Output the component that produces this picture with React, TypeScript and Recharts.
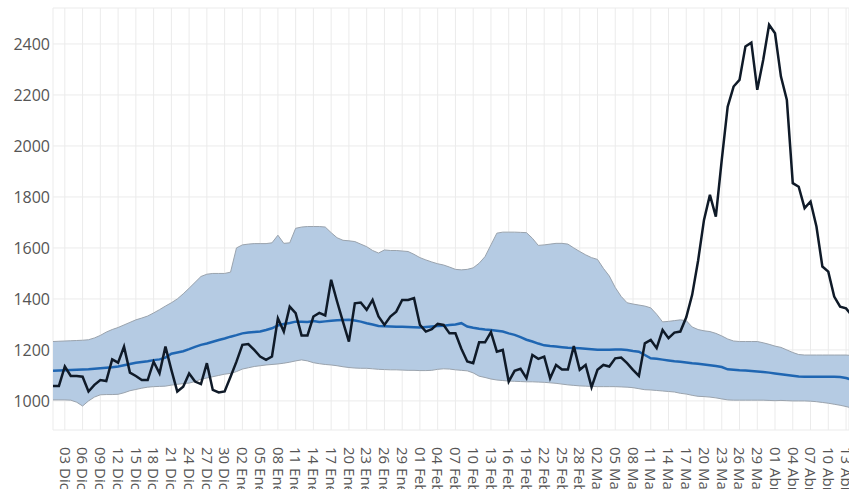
import React from "react";
import { ComposedChart, Area, Line, XAxis, YAxis, CartesianGrid } from "recharts";

// Daily values, day 0 = 01 Dic
const observed = [
  1059, 1059, 1135, 1098, 1098, 1095, 1037, 1063, 1082, 1078,
  1163, 1150, 1213, 1111, 1098, 1082, 1082, 1154, 1108, 1213,
  1122, 1037, 1056, 1108, 1076, 1066, 1148, 1043, 1033, 1037,
  1095, 1154, 1220, 1223, 1200, 1174, 1161, 1174, 1324, 1272,
  1370, 1344, 1257, 1257, 1331, 1345, 1335, 1475, 1390, 1310,
  1233, 1383, 1386, 1357, 1396, 1331, 1298, 1331, 1350, 1396,
  1396, 1403, 1298, 1272, 1281, 1302, 1298, 1265, 1265, 1205,
  1155, 1148, 1230, 1230, 1270, 1193, 1200, 1076, 1118, 1126,
  1089, 1180, 1165, 1174, 1089, 1141, 1123, 1123, 1215, 1122,
  1141, 1054, 1122, 1141, 1135, 1167, 1170, 1148, 1122, 1098,
  1226, 1239, 1207, 1278, 1246, 1268, 1272, 1328, 1416, 1550,
  1710, 1808, 1723, 1945, 2154, 2233, 2259, 2390, 2405, 2220,
  2337, 2475, 2442, 2272, 2180, 1854, 1840, 1756, 1782, 1684,
  1527, 1507, 1409, 1370, 1363, 1335,
];

const expected = [
  1118, 1119, 1120, 1121, 1122, 1123, 1124, 1126, 1128, 1130,
  1132, 1135, 1140, 1145, 1150, 1153, 1156, 1160, 1163, 1170,
  1185, 1190, 1195, 1203, 1212, 1220, 1225, 1232, 1239, 1245,
  1252, 1258, 1265, 1268, 1270, 1272, 1278, 1285, 1296, 1302,
  1306, 1311, 1311, 1310, 1313, 1310, 1312, 1314, 1316, 1317,
  1318, 1315, 1311, 1305, 1300, 1294, 1293, 1292, 1291, 1291,
  1290, 1289, 1288, 1290, 1292, 1294, 1295, 1298, 1300, 1305,
  1292, 1287, 1283, 1280, 1278, 1275, 1272, 1265, 1259, 1250,
  1240, 1233, 1225, 1218, 1215, 1213, 1211, 1209, 1208, 1207,
  1205, 1203, 1201, 1201, 1201, 1202, 1202, 1200, 1196, 1193,
  1180, 1167, 1165, 1162, 1159, 1156, 1154, 1151, 1148, 1146,
  1143, 1140, 1137, 1133, 1124, 1122, 1120, 1119, 1117, 1115,
  1113, 1111, 1108, 1105, 1102, 1099, 1096, 1095, 1095, 1095,
  1095, 1095, 1095, 1094, 1090, 1083,
];

const upper = [
  1233, 1234, 1235, 1236, 1237, 1238, 1240, 1247, 1257, 1270,
  1280, 1288, 1298, 1308, 1318, 1325, 1333, 1345, 1358, 1372,
  1385, 1400, 1420, 1442, 1465, 1488, 1497, 1500, 1500, 1500,
  1505, 1600, 1612, 1615, 1617, 1617, 1617, 1620, 1650, 1618,
  1620, 1677, 1682, 1684, 1684, 1684, 1682, 1660, 1640, 1630,
  1628, 1625, 1615, 1605, 1590, 1580, 1592, 1590, 1590, 1588,
  1586, 1575, 1562, 1553, 1545, 1538, 1533, 1525, 1516, 1514,
  1516, 1522, 1540, 1566, 1612, 1658, 1662, 1662, 1662, 1661,
  1660, 1638, 1610, 1612, 1615, 1618, 1618, 1615, 1600, 1586,
  1573, 1562, 1555, 1520, 1490, 1445, 1410, 1385, 1380, 1376,
  1372, 1365, 1340, 1310, 1312, 1315, 1318, 1315, 1290, 1280,
  1275, 1272, 1265, 1255, 1243, 1235, 1233, 1233, 1233, 1233,
  1228, 1222, 1215, 1210, 1200, 1190, 1182, 1180, 1180, 1180,
  1180, 1180, 1180, 1180, 1180, 1178,
];

const lower = [
  1004, 1004, 1004, 1003, 995, 980, 1000, 1015, 1024, 1025,
  1025, 1026, 1032, 1040, 1045, 1050, 1054, 1056, 1057, 1058,
  1062, 1065, 1068, 1070, 1076, 1085, 1090, 1095, 1100, 1105,
  1108, 1115, 1125, 1130, 1135, 1138, 1141, 1143, 1145, 1148,
  1152, 1157, 1161, 1157, 1150, 1146, 1143, 1141, 1138, 1134,
  1131, 1129, 1128, 1128, 1126, 1124, 1123, 1122, 1122, 1121,
  1120, 1120, 1119, 1119, 1120, 1124, 1126, 1125, 1122, 1120,
  1118, 1110, 1097, 1092, 1086, 1082, 1080, 1078, 1077, 1076,
  1075, 1075, 1074, 1073, 1071, 1069, 1066, 1063, 1061, 1059,
  1058, 1057, 1056, 1056, 1056, 1056, 1055, 1054, 1052, 1048,
  1044, 1043, 1041, 1039, 1037, 1035, 1030, 1027, 1022, 1018,
  1017, 1015, 1012, 1008, 1004, 1003, 1003, 1003, 1003, 1003,
  1003, 1002, 1001, 1002, 1001, 1000, 1000, 1000, 999, 997,
  994, 991, 987, 983, 978, 972,
];

const tickLabels = [
  "03 Dic", "06 Dic", "09 Dic", "12 Dic", "15 Dic", "18 Dic", "21 Dic", "24 Dic", "27 Dic", "30 Dic",
  "02 Ene", "05 Ene", "08 Ene", "11 Ene", "14 Ene", "17 Ene", "20 Ene", "23 Ene", "26 Ene", "29 Ene",
  "01 Feb", "04 Feb", "07 Feb", "10 Feb", "13 Feb", "16 Feb", "19 Feb", "22 Feb", "25 Feb", "28 Feb",
  "02 Mar", "05 Mar", "08 Mar", "11 Mar", "14 Mar", "17 Mar", "20 Mar", "23 Mar", "26 Mar", "29 Mar",
  "01 Abr", "04 Abr", "07 Abr", "10 Abr", "13 Abr",
];
const tickDays = tickLabels.map((_, i) => 2 + 3 * i);

const yTicks = [1000, 1200, 1400, 1600, 1800, 2000, 2200, 2400];

const data = observed.map((v, i) => ({
  day: i,
  observed: v,
  expected: expected[i],
  band: [lower[i], upper[i]],
}));

const FONT = "'Open Sans', 'Noto Sans', sans-serif";

function XTick(props: any) {
  const { x, y, payload } = props;
  const idx = tickDays.indexOf(payload.value);
  return (
    <text
      transform={`translate(${x},${y}) rotate(90)`}
      textAnchor="start"
      dy="0.35em"
      fontFamily={FONT}
      fontSize={15}
      fill="#555"
    >
      {idx >= 0 ? tickLabels[idx] : ""}
    </text>
  );
}

export default function App() {
  return (
    <div style={{ position: "absolute", left: 0, top: 0, width: 849, height: 489, overflow: "hidden", background: "#fff" }}>
      <ComposedChart
        width={849}
        height={489}
        data={data}
        margin={{ top: 8, right: 0, bottom: 0, left: 0 }}
        style={{ fontFamily: FONT }}
      >
        <CartesianGrid stroke="#ebebeb" strokeWidth={1} />
        <XAxis
          dataKey="day"
          type="number"
          domain={[0, 134.5]}
          allowDataOverflow
          ticks={tickDays}
          interval={0}
          height={59}
          axisLine={false}
          tickLine={false}
          tickSize={0}
          tickMargin={17}
          tick={<XTick />}
        />
        <YAxis
          type="number"
          domain={[886, 2541]}
          allowDataOverflow
          ticks={yTicks}
          width={53}
          axisLine={false}
          tickLine={false}
          tickSize={0}
          tickMargin={3}
          tick={{ fontSize: 16, fill: "#555", fontFamily: FONT }}
        />
        <Area
          type="linear"
          dataKey="band"
          fill="#b5cbe3"
          fillOpacity={1}
          stroke="#9aa3ad"
          strokeWidth={1}
          isAnimationActive={false}
          dot={false}
          activeDot={false}
        />
        <Line
          type="linear"
          dataKey="expected"
          stroke="#1f66b2"
          strokeWidth={2.5}
          dot={false}
          activeDot={false}
          isAnimationActive={false}
        />
        <Line
          type="linear"
          dataKey="observed"
          stroke="#0f1a28"
          strokeWidth={2.5}
          dot={false}
          activeDot={false}
          isAnimationActive={false}
        />
      </ComposedChart>
    </div>
  );
}
